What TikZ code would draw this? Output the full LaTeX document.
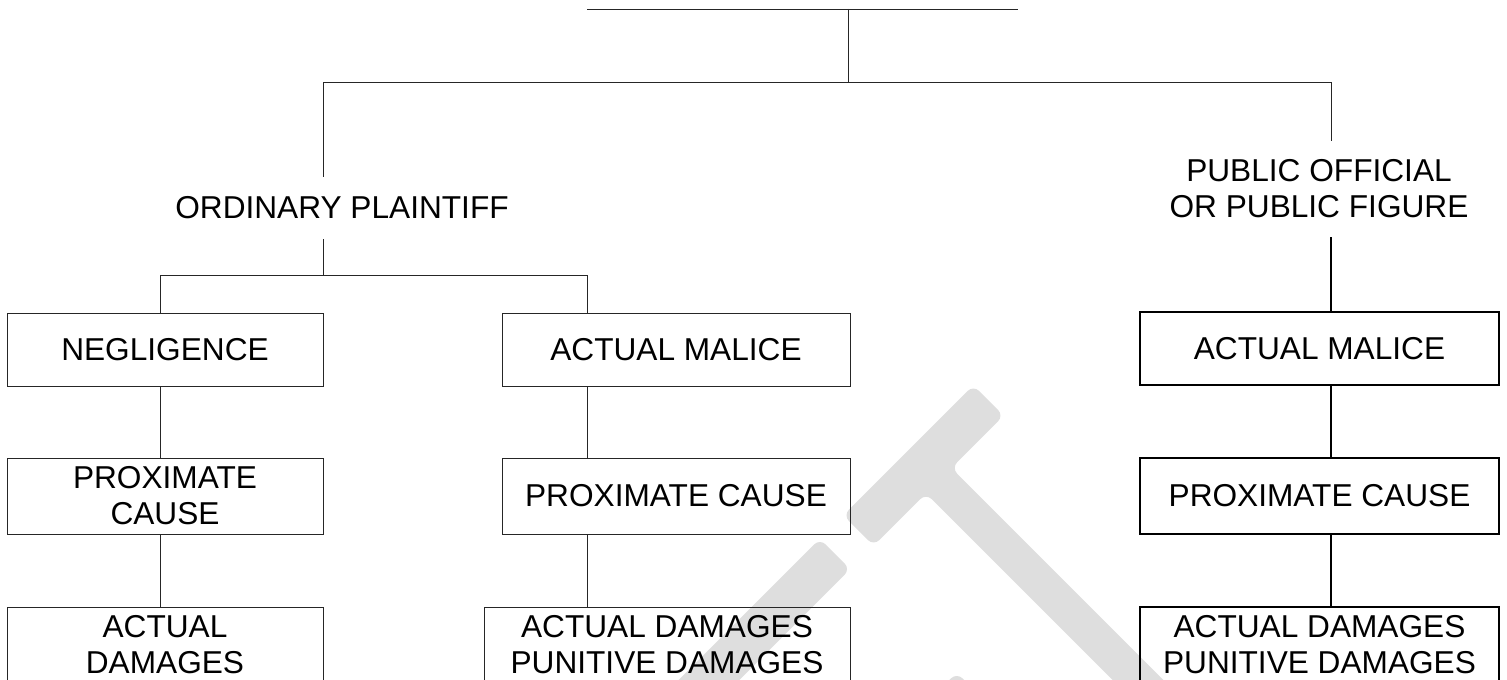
\documentclass[tikz,border=0pt]{standalone}
\usepackage{fontspec}
\setmainfont{Liberation Sans}
\usepackage{xcolor}
\definecolor{wmgray}{HTML}{DEDEDE}

\begin{document}
\begin{tikzpicture}[
    every node/.style={font=\fontsize{18pt}{20.5pt}\selectfont},
    box/.style={draw=black!85,line width=.55pt,align=center,inner sep=0pt,minimum height=1.46cm},
    tallbox/.style={box,minimum height=1.52cm},
    heavybox/.style={box,draw=black,line width=1.1pt},
    heavytall/.style={heavybox,minimum height=1.52cm},
    lbl/.style={align=center,inner xsep=0pt},
    thinline/.style={draw=black!85,line width=.55pt},
    heavyline/.style={draw=black,line width=1.1pt},
    stroke/.style={fill=wmgray,rounded corners=.16cm}
  ]
  \useasboundingbox (0,0) rectangle (30.14,-13.6);
  \clip (0,0) rectangle (30.14,-13.6);

  \begin{scope}[shift={(18.47,-9.31)},rotate=45]
    \path[stroke] (-1.84,.43) -- (1.84,.43) -- (1.84,-.43) -- (.36,-.43) -- (.36,-9)
      -- (-.36,-9) -- (-.36,-.43) -- (-1.84,-.43) -- cycle;
    \path[stroke] (-2.50,.43) -- (-2.50,-.43) -- (-8,-.43) -- (-8,.43) -- cycle;
    \path[stroke] (-2.46,-3.40) -- (-2.46,-4.26) -- (-8,-4.26) -- (-8,-3.40) -- cycle;
  \end{scope}

  \node (op) [lbl,inner ysep=.39cm] at (6.84,-4.16) {ORDINARY PLAINTIFF};
  \node (pub) [lbl,inner ysep=.37cm] at (26.38,-3.78) {PUBLIC OFFICIAL\\OR PUBLIC FIGURE};

  \node (neg) [box,minimum width=6.32cm] at (3.30,-6.99) {NEGLIGENCE};
  \node (proxa) [tallbox,minimum width=6.32cm] at (3.30,-9.92) {PROXIMATE\\CAUSE};
  \node (acta) [tallbox,minimum width=6.32cm] at (3.30,-12.90) {ACTUAL\\DAMAGES};

  \node (malb) [box,minimum width=6.96cm] at (13.52,-6.99) {ACTUAL MALICE};
  \node (proxb) [tallbox,minimum width=6.96cm] at (13.52,-9.92) {PROXIMATE CAUSE};
  \node (actb) [tallbox,minimum width=7.32cm] at (13.34,-12.90) {ACTUAL DAMAGES\\PUNITIVE DAMAGES};

  \node (malc) [heavybox,minimum width=7.18cm] at (26.39,-6.97) {ACTUAL MALICE};
  \node (proxc) [heavytall,minimum width=7.18cm] at (26.39,-9.92) {PROXIMATE CAUSE};
  \node (actc) [heavytall,minimum width=7.18cm] at (26.39,-12.90) {ACTUAL DAMAGES\\PUNITIVE DAMAGES};

  \path (11.74,-0.18) coordinate (topl) ++(8.62,0) coordinate (topr);
  \path (16.96,-0.18) coordinate (topm);
  \path (6.46,-1.64) coordinate (busl) ++(20.16,0) coordinate (busr);
  \path (3.20,-5.50) coordinate (opl) ++(8.54,0) coordinate (opr);

  \draw[thinline] (topl) -- (topr);
  \draw[thinline] (topm) -- (topm |- busl);
  \draw[thinline] (op.north -| busl) -- (busl) -- (busr) -- (pub.north -| busr);
  \draw[thinline] (op.south -| busl) -- (busl |- opl);
  \draw[thinline] (neg.north -| opl) -- (opl) -- (opr) -- (malb.north -| opr);

  \draw[thinline] (neg.south -| opl) -- (proxa.north -| opl);
  \draw[thinline] (proxa.south -| opl) -- (acta.north -| opl);
  \draw[thinline] (malb.south -| opr) -- (proxb.north -| opr);
  \draw[thinline] (proxb.south -| opr) -- (actb.north -| opr);

  \draw[heavyline] (pub.south -| busr) -- (malc.north -| busr);
  \draw[heavyline] (malc.south -| busr) -- (proxc.north -| busr);
  \draw[heavyline] (proxc.south -| busr) -- (actc.north -| busr);
\end{tikzpicture}
\end{document}
